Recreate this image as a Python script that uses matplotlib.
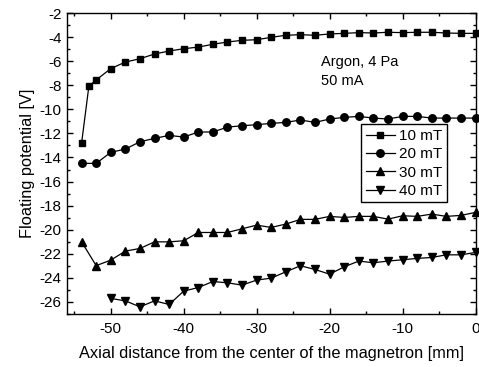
import matplotlib
matplotlib.use("Agg")
import matplotlib.pyplot as plt
from matplotlib.ticker import MultipleLocator

plt.rcParams['font.family'] = ['Liberation Sans', 'DejaVu Sans']
plt.rcParams['axes.unicode_minus'] = False

x_10 = [-54, -53, -52, -50, -48, -46, -44, -42, -40, -38, -36, -34, -32, -30, -28, -26, -24,
        -22, -20, -18, -16, -14, -12, -10, -8, -6, -4, -2, 0]
y_10 = [-12.8, -8.05, -7.55, -6.6, -6.06, -5.78, -5.39, -5.14, -4.95, -4.81, -4.58, -4.39, -4.25,
        -4.2, -4.0, -3.83, -3.78, -3.83, -3.72, -3.67, -3.61, -3.64, -3.58, -3.61, -3.58, -3.58,
        -3.64, -3.67, -3.67]

x_20 = [-54, -52, -50, -48, -46, -44, -42, -40, -38, -36, -34, -32, -30, -28, -26, -24,
        -22, -20, -18, -16, -14, -12, -10, -8, -6, -4, -2, 0]
y_20 = [-14.49, -14.49, -13.57, -13.3, -12.69, -12.41, -12.16, -12.3, -11.88, -11.88, -11.47,
        -11.36, -11.27, -11.16, -11.08, -10.88, -11.08, -10.8, -10.66, -10.58, -10.72, -10.8,
        -10.58, -10.58, -10.72, -10.72, -10.72, -10.72]

x_30 = [-54, -52, -50, -48, -46, -44, -42, -40, -38, -36, -34, -32, -30, -28, -26, -24,
        -22, -20, -18, -16, -14, -12, -10, -8, -6, -4, -2, 0]
y_30 = [-21.02, -23.0, -22.54, -21.79, -21.57, -21.02, -21.02, -20.93, -20.24, -20.24, -20.24,
        -19.93, -19.63, -19.82, -19.54, -19.15, -19.15, -18.9, -18.99, -18.9, -18.9, -19.13,
        -18.85, -18.9, -18.71, -18.9, -18.82, -18.57]

x_40 = [-50, -48, -46, -44, -42, -40, -38, -36, -34, -32, -30, -28, -26, -24,
        -22, -20, -18, -16, -14, -12, -10, -8, -6, -4, -2, 0]
y_40 = [-25.73, -25.93, -26.43, -25.93, -26.23, -25.12, -24.82, -24.32, -24.43, -24.62, -24.2,
        -24.04, -23.51, -23.01, -23.32, -23.71, -23.1, -22.62, -22.76, -22.62, -22.51, -22.4,
        -22.32, -22.1, -22.1, -21.9]

labels = ['10 mT', '20 mT', '30 mT', '40 mT']
markers = ['s', 'o', '^', 'v']
msizes = [5.0, 5.4, 6.0, 6.0]

fig = plt.figure(figsize=(4.79, 3.67), dpi=100)
ax = fig.add_axes([0.1399, 0.1452, 0.9927 - 0.1399, 0.9638 - 0.1452])

for xs, ys, lab, m, ms in zip([x_10, x_20, x_30, x_40], [y_10, y_20, y_30, y_40], labels, markers, msizes):
    ax.plot(xs, ys, color='black', lw=0.9, marker=m, markersize=ms,
            label=lab, clip_on=False, zorder=3)

ax.set_xlim(-56, 0)
ax.set_ylim(-27, -2)
ax.xaxis.set_major_locator(MultipleLocator(10))
ax.xaxis.set_minor_locator(MultipleLocator(5))
ax.yaxis.set_major_locator(MultipleLocator(2))
ax.yaxis.set_minor_locator(MultipleLocator(1))
ax.tick_params(which='both', direction='in', top=True, right=True, labelsize=11, width=1)
ax.tick_params(axis='x', which='major', length=4, pad=6)
ax.tick_params(axis='y', which='major', length=4, pad=4)
ax.tick_params(which='minor', length=2.5)
ax.set_yticks(list(range(-26, -1, 2)))
for s in ax.spines.values():
    s.set_linewidth(1)

ax.set_xlabel('Axial distance from the center of the magnetron [mm]', fontsize=11.8, labelpad=7)
ax.set_ylabel('Floating potential [V]', fontsize=11.8, labelpad=3)

ax.text(0.622, 0.806, 'Argon, 4 Pa\n50 mA', transform=ax.transAxes, fontsize=10.5,
        va='center', ha='left', linespacing=1.38)

leg = ax.legend(loc='upper left', bbox_to_anchor=(0.72, 0.63), fontsize=11,
                frameon=True, fancybox=False, edgecolor='black', framealpha=1,
                handlelength=1.9, handletextpad=0.3, borderpad=0.3, labelspacing=0.28,
                borderaxespad=0)
leg.get_frame().set_linewidth(1)

fig.savefig('out.png', dpi=100)
